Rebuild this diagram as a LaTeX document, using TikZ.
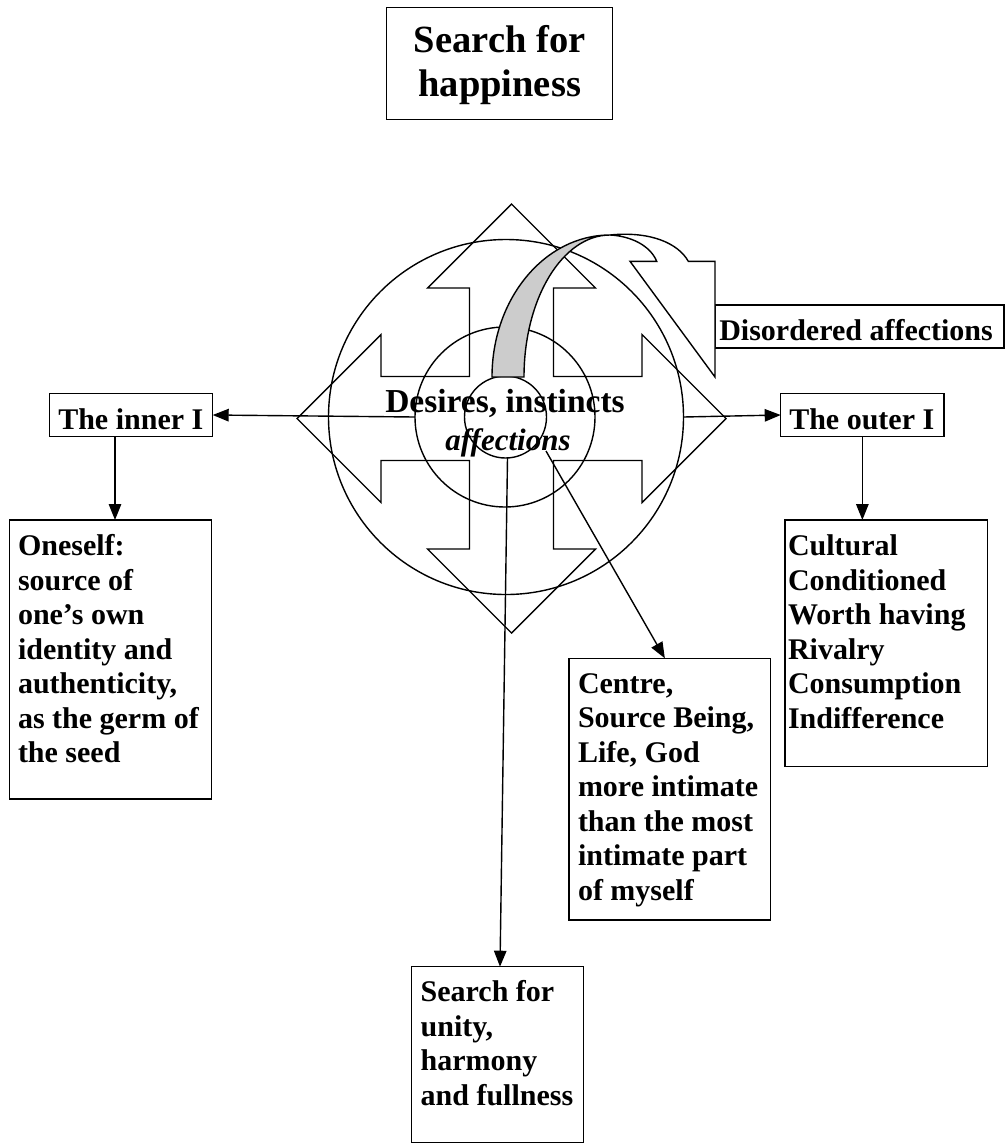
\documentclass[tikz,border=0pt]{standalone}
\usepackage{fontspec}
\setmainfont{Liberation Serif}
\usetikzlibrary{arrows.meta,calc}
\definecolor{bandgray}{RGB}{204,204,204}
\tikzset{
  box/.style={draw, line width=1.4pt, inner sep=0pt, outer sep=0pt, anchor=north west},
  txt/.style={inner sep=0pt, outer sep=0pt, anchor=base west, font=\fontsize{30}{34.5}\selectfont\bfseries},
  conn/.style={line width=1.4pt, -{Triangle[length=16pt,width=12.5pt]}},
  plain/.style={line width=1.4pt},
  ring/.style={draw, circle, line width=1.4pt, inner sep=0pt, outer sep=0pt},
}
\begin{document}
\begin{tikzpicture}[x=1pt,y=-1pt]
\useasboundingbox (0,0) rectangle (1007,1144);

% title
\node[box, minimum width=226pt, minimum height=112pt] (title) at (386.7,7.3) {};
\node[inner sep=0pt, anchor=base, font=\fontsize{38.5}{44.4}\selectfont\bfseries] (titleT) at (499.7,52.3)
  {\parbox[t]{220pt}{\centering Search for\\happiness}};

% circles
\node[ring, minimum size=355pt] (bigc) at (506,417) {};
\node[ring, minimum size=180pt] (midc) at (505,417) {};
\node[ring, minimum size=82pt] (smallc) at (505.5,417) {};

% four-way arrow
\draw[plain, line join=miter] (511.5,204) -- (595.5,288) -- (553.5,288) -- (553.5,376.5) -- (642,376.5) -- (642,334.5) -- (726,418.5) -- (642,502.5) -- (642,460.5) -- (553.5,460.5) -- (553.5,549) -- (595.5,549) -- (511.5,633) -- (427.5,549) -- (469.5,549) -- (469.5,460.5) -- (381,460.5) -- (381,502.5) -- (297,418.5) -- (381,334.5) -- (381,376.5) -- (469.5,376.5) -- (469.5,288) -- (427.5,288) -- cycle;

% boxes
\node[box, minimum width=163.4pt, minimum height=43.4pt] (innerI) at (49.3,393.3) {};
\node[txt] (innerT) at (58.3,429) {The inner I};
\node[box, minimum width=163.3pt, minimum height=43.4pt] (outerI) at (780.7,393.3) {};
\node[txt] (outerT) at (789.3,429) {The outer I};
\node[box, minimum width=289pt, minimum height=43pt] (disord) at (715,305) {};
\node[txt] (disordT) at (719.3,340) {Disordered affections};
\node[box, minimum width=202.4pt, minimum height=279pt] (oneself) at (9.3,520) {};
\node[txt] (oneselfT) at (18,555.5) {\parbox[t]{200pt}{Oneself:\\source of\\one’s own\\identity and\\authenticity,\\as the germ of\\the seed}};
\node[box, minimum width=202.3pt, minimum height=246.7pt] (cultural) at (785,520) {};
\node[txt] (culturalT) at (788,555.7) {\parbox[t]{200pt}{Cultural\\Conditioned\\Worth having\\Rivalry\\Consumption\\Indifference}};
\node[box, minimum width=201.7pt, minimum height=261.7pt] (centre) at (569,658.3) {};
\node[txt] (centreT) at (578,693.3) {\parbox[t]{200pt}{Centre,\\Source Being,\\Life, God\\more intimate\\than the most\\intimate part\\of myself}};
\node[box, minimum width=171.6pt, minimum height=175.5pt] (search) at (411.7,966.7) {};
\node[txt] (searchT) at (420.7,1001.7) {\parbox[t]{170pt}{Search for\\unity,\\harmony\\and fullness}};

% connectors
\draw[conn] (midc.west) -- (innerI.east);
\draw[conn] (bigc.east) -- (outerI.west);
\draw[conn] ([xshift=65.7pt]innerI.south west) -- ([xshift=105.7pt]oneself.north west);
\draw[conn] (outerI.south) -- (outerI.south |- cultural.north);
\draw[conn] ([xshift=2pt]smallc.south) -- ([xshift=2.5pt]search.north);
\coordinate (dstart) at (546,451);
\draw[conn] (dstart) -- ([xshift=-5pt]centre.north);

% curved arrow
\draw[plain, fill=bandgray] (492,377) .. controls (492,298.6) and (544.8,235) .. (610,235)
  .. controls (562.5,235) and (524,298.6) .. (524,377) -- cycle;
\draw[plain, fill=white, line join=miter] (610,235) .. controls (650,231) and (678,243) .. (688.3,261.3)
  -- (715,261.3) -- (715,377) -- (630,261.3) -- (656.7,261.3)
  .. controls (650,245) and (630,236) .. (610,235) -- cycle;

% centre texts
\node[inner sep=0pt, anchor=base, font=\fontsize{33.5}{40}\selectfont\bfseries] (desires) at (505,412) {Desires, instincts};
\node[inner sep=0pt, anchor=base, font=\fontsize{31}{36}\selectfont\bfseries\itshape] (affect) at (508,450) {affections};
\end{tikzpicture}
\end{document}
